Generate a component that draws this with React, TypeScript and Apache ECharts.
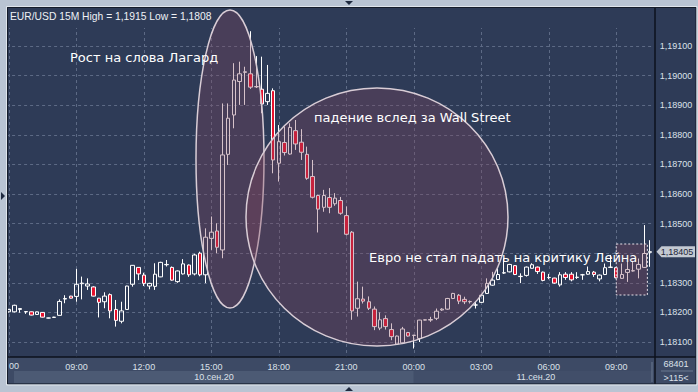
import React, { useEffect, useRef } from "react";
import * as echarts from "echarts";

// ---- data (EUR/USD, 15 minute bars, 10.09.2020 06:00 -> 11.09.2020 10:30) ----
const open = [
  1.18202, 1.18202, 1.1821, 1.18203, 1.18202, 1.18193, 1.182, 1.18181, 1.18183, 1.1819,
  1.18245, 1.18255, 1.18254, 1.18297, 1.18289, 1.18286, 1.18248, 1.18236, 1.1826, 1.1821,
  1.1817, 1.1821, 1.18295, 1.18352, 1.18326, 1.18289, 1.18288, 1.1832, 1.18361, 1.18352,
  1.18304, 1.1833, 1.1836, 1.1833, 1.184, 1.18327, 1.1845, 1.18475, 1.18411, 1.18734,
  1.18867, 1.1898, 1.19011, 1.19006, 1.18963, 1.18954, 1.18912, 1.18949, 1.18704, 1.18774,
  1.18735, 1.18814, 1.18775, 1.18734, 1.18659, 1.18595, 1.18555, 1.18588, 1.18567, 1.18578,
  1.18527, 1.18471, 1.18214, 1.18245, 1.18236, 1.18211, 1.18147, 1.18179, 1.18142, 1.18093,
  1.18097, 1.18132, 1.18122, 1.18112, 1.18174, 1.18174, 1.1818, 1.18208, 1.18211, 1.18247,
  1.18258, 1.18244, 1.18236, 1.18225, 1.18234, 1.18264, 1.18292, 1.18311, 1.18333, 1.18337,
  1.18358, 1.18321, 1.18325, 1.18349, 1.18353, 1.18336, 1.18318, 1.18316, 1.18293, 1.18329,
  1.18329, 1.18318, 1.18327, 1.18329, 1.18336, 1.18313, 1.18328, 1.18352, 1.18351, 1.18315,
  1.18335, 1.1834, 1.18346, 1.18352, 1.18403,
];
const close = [
  1.1821, 1.18224, 1.18213, 1.18202, 1.18191, 1.18202, 1.18184, 1.18181, 1.18184, 1.18237,
  1.18247, 1.18248, 1.18295, 1.18299, 1.18296, 1.18255, 1.18234, 1.18255, 1.18205, 1.18173,
  1.18205, 1.18289, 1.18359, 1.1833, 1.18298, 1.18298, 1.18329, 1.18369, 1.18362, 1.18309,
  1.1834, 1.18364, 1.18327, 1.18394, 1.18327, 1.18454, 1.18471, 1.1842, 1.18732, 1.18856,
  1.18985, 1.19006, 1.19013, 1.18961, 1.18962, 1.18904, 1.1894, 1.18715, 1.18777, 1.1874,
  1.18825, 1.18769, 1.18741, 1.18653, 1.18589, 1.18549, 1.18595, 1.18555, 1.18586, 1.18535,
  1.18464, 1.18205, 1.18246, 1.18238, 1.18214, 1.18152, 1.18175, 1.18152, 1.18118, 1.1812,
  1.18144, 1.1812, 1.18123, 1.18174, 1.18175, 1.18176, 1.18204, 1.18211, 1.18247, 1.18264,
  1.18238, 1.18236, 1.18237, 1.18225, 1.18258, 1.18298, 1.18309, 1.18328, 1.18334, 1.18362,
  1.18328, 1.18322, 1.18353, 1.18361, 1.18338, 1.18308, 1.18318, 1.18299, 1.18327, 1.18318,
  1.1831, 1.18319, 1.18327, 1.18338, 1.18328, 1.18326, 1.18351, 1.18353, 1.18317, 1.18328,
  1.18345, 1.18341, 1.18362, 1.18399, 1.18405,
];
const low = [
  1.182, 1.182, 1.18199, 1.18195, 1.1819, 1.18192, 1.18183, 1.1818, 1.18182, 1.1819,
  1.18231, 1.18247, 1.18236, 1.18244, 1.18276, 1.18254, 1.18183, 1.18214, 1.1818, 1.18152,
  1.18163, 1.18209, 1.18287, 1.18309, 1.18289, 1.18278, 1.18276, 1.18319, 1.18355, 1.18307,
  1.183, 1.18328, 1.1832, 1.18325, 1.18322, 1.18299, 1.18411, 1.184, 1.18383, 1.18698,
  1.18822, 1.18901, 1.18901, 1.18955, 1.18958, 1.18873, 1.18901, 1.1867, 1.18642, 1.1873,
  1.18733, 1.18749, 1.18715, 1.18648, 1.18585, 1.1847, 1.1854, 1.18535, 1.1856, 1.1853,
  1.1846, 1.18175, 1.18186, 1.1823, 1.18208, 1.1814, 1.1814, 1.18142, 1.18106, 1.1809,
  1.18095, 1.18118, 1.18078, 1.181, 1.18173, 1.18168, 1.18174, 1.18205, 1.18209, 1.18245,
  1.18228, 1.18228, 1.1823, 1.18213, 1.18232, 1.18262, 1.1829, 1.18309, 1.1833, 1.18335,
  1.18326, 1.18299, 1.18321, 1.18348, 1.1833, 1.18305, 1.18312, 1.18297, 1.18287, 1.1831,
  1.18305, 1.18313, 1.1831, 1.18327, 1.1832, 1.18305, 1.18326, 1.1835, 1.18315, 1.18313,
  1.18303, 1.18338, 1.18315, 1.1835, 1.18354,
];
const high = [
  1.18212, 1.18226, 1.18214, 1.18204, 1.18203, 1.18203, 1.18201, 1.18182, 1.18185, 1.18244,
  1.18258, 1.18256, 1.18347, 1.18321, 1.18315, 1.18288, 1.18249, 1.18268, 1.18264, 1.18242,
  1.18236, 1.1829, 1.1836, 1.18353, 1.18334, 1.183, 1.18366, 1.18371, 1.18377, 1.18355,
  1.18342, 1.1838, 1.18362, 1.18398, 1.18405, 1.18484, 1.18524, 1.18501, 1.18906, 1.18906,
  1.19042, 1.19047, 1.1903, 1.1915, 1.19066, 1.19064, 1.19036, 1.18957, 1.18833, 1.18828,
  1.18839, 1.1885, 1.18819, 1.1876, 1.18715, 1.18598, 1.18614, 1.1862, 1.18603, 1.1859,
  1.18558, 1.18475, 1.18304, 1.18287, 1.18254, 1.1822, 1.182, 1.1819, 1.18163, 1.18122,
  1.18151, 1.18134, 1.18124, 1.18175, 1.18176, 1.18185, 1.18213, 1.18214, 1.18249, 1.18266,
  1.18262, 1.18253, 1.1824, 1.18236, 1.1826, 1.18315, 1.18337, 1.18349, 1.18383, 1.18364,
  1.1836, 1.18332, 1.18355, 1.18366, 1.18355, 1.18338, 1.1833, 1.18317, 1.18336, 1.18336,
  1.18336, 1.18336, 1.1833, 1.18355, 1.1834, 1.18328, 1.18365, 1.18394, 1.18353, 1.18365,
  1.18371, 1.18374, 1.18382, 1.18495, 1.18444,
];

const pad = (n: number) => (n < 10 ? "0" + n : "" + n);
const categories = open.map((_, i) => {
  const m = 6 * 60 + 15 * i;
  const day = m >= 1440 ? "11" : "10";
  const t = m % 1440;
  return `${day}.09 ${pad(Math.floor(t / 60))}:${pad(t % 60)}`;
});

const titleText = "EUR/USD 15M High = 1,1915 Low = 1,1808";
const dayLabels = ["10.сен.20", "11.сен.20"];
const dayBreakIndex = 72;
const barsTotal = "68401";
const barsVisible = ">115<";
const clippedFirstLabel = "00";
const notes = [
  { text: "Рост на слова Лагард", x: 70, y: 57 },
  { text: "падение вслед за Wall Street", x: 314, y: 117 },
  { text: "Евро не стал падать на критику Лейна", x: 369, y: 257 },
];

const fmt = (v: number) => v.toFixed(5).replace(".", ",");

const C = {
  outer: "#b9c4d3",
  panel: "#2e3b57",
  row: "#3d4a65",
  band1: "#4c5a74",
  band2: "#414e69",
  grid: "#5d6a85",
  overlay: "rgba(130,70,95,0.33)",
  overlayStroke: "#d9cdd6",
  red: "#e8112d",
  label: "#dce1e9",
};

export default function App() {
  const ref = useRef<HTMLDivElement>(null);
  useEffect(() => {
    const el = ref.current!;
    const chart = echarts.init(el, null, { renderer: "svg" });
    const small = "Liberation Sans";
    const gridLine = { color: C.grid, type: [3, 3], width: 1 };
    chart.setOption({
      animation: false,
      backgroundColor: C.panel,
      grid: { left: 6.1, right: 45.2, top: 8, bottom: 35 },
      xAxis: {
        type: "category",
        data: categories,
        boundaryGap: true,
        axisLine: { show: false },
        axisTick: { show: false, interval: 11, alignWithLabel: true },
        splitLine: { show: true, interval: 11, alignWithLabel: true, lineStyle: gridLine },
        axisLabel: {
          interval: 11,
          formatter: (v: string, idx: number) => (idx === 0 ? "" : v.split(" ")[1]),
          color: C.label,
          fontSize: 9,
          fontFamily: small,
          margin: 5,
        },
      },
      yAxis: {
        type: "value",
        position: "right",
        min: 1.180493,
        max: 1.192284,
        splitNumber: 12,
        axisLine: { show: false },
        axisTick: { show: false },
        splitLine: { show: true, lineStyle: gridLine },
        axisLabel: {
          showMinLabel: false,
          showMaxLabel: false,
          formatter: (v: number) => (v > 1.1915 || v < 1.1805 ? "" : fmt(v)),
          color: C.label,
          fontSize: 9,
          fontFamily: small,
          margin: 7,
        },
      },
      series: [
        {
          type: "candlestick",
          z: 5,
          data: open.map((o, i) => [o, close[i], low[i], high[i]]),
          barWidth: 4,
          itemStyle: {
            color: "rgba(0,0,0,0)",
            color0: C.red,
            borderColor: "#ffffff",
            borderColor0: "#ffffff",
            borderWidth: 1,
          },
        },
      ],
    });

    const px = (i: number) => chart.convertToPixel({ xAxisIndex: 0 }, i) as number;
    const py = (v: number) => chart.convertToPixel({ yAxisIndex: 0 }, v) as number;
    const xBreak = px(dayBreakIndex);
    const lastPrice = close[close.length - 1];
    const yLast = py(lastPrice);
    const bandL = 14;
    const bandR = 652;

    const txt = (text: string, x: number, y: number, extra: any = {}) => ({
      type: "text",
      z: 70,
      style: {
        text,
        x,
        y,
        fill: "#ffffff",
        fontSize: 9,
        fontFamily: small,
        verticalAlign: "middle",
        align: "left",
        ...extra,
      },
    });

    chart.setOption({
      graphic: {
        elements: [
          // bottom axis row
          { type: "rect", z: 0, shape: { x: 8, y: 357, width: 688, height: 27 }, style: { fill: C.row } },
          { type: "rect", z: 0, shape: { x: bandL, y: 371, width: xBreak - bandL, height: 12 }, style: { fill: C.band1 } },
          { type: "rect", z: 0, shape: { x: xBreak, y: 371, width: bandR - xBreak, height: 12 }, style: { fill: C.band2 } },
          // cover the grid line above the top price label (row with the title)
          { type: "rect", z: 1, shape: { x: 8, y: 8, width: 647, height: 20 }, style: { fill: C.panel } },
          // annotations
          { type: "ellipse", z: 50, shape: { cx: 230, cy: 159, rx: 34, ry: 149 }, style: { fill: C.overlay, stroke: C.overlayStroke, lineWidth: 1.5 } },
          { type: "ellipse", z: 50, shape: { cx: 377, cy: 217, rx: 131, ry: 129 }, style: { fill: C.overlay, stroke: C.overlayStroke, lineWidth: 1.5 } },
          { type: "rect", z: 50, shape: { x: px(108), y: 244, width: px(113) + 3 - px(108), height: 51 }, style: { fill: C.overlay, stroke: "#e8e2ea", lineWidth: 1, lineDash: [2, 2] } },
          ...notes.map((n) => txt(n.text, n.x, n.y, { fontSize: 13, fontFamily: "DejaVu Sans" })),
          // axes lines
          { type: "line", z: 60, shape: { x1: 7, y1: 357, x2: 696, y2: 357 }, style: { stroke: "#0d121d", lineWidth: 1.5 } },
          { type: "line", z: 60, shape: { x1: 655, y1: 7, x2: 655, y2: 384 }, style: { stroke: "#0d121d", lineWidth: 1.5 } },
          { type: "line", z: 60, shape: { x1: 652, y1: 362, x2: 652, y2: 382 }, style: { stroke: "#6a7890", lineWidth: 1 } },
          // clipped first time label
          txt(clippedFirstLabel, 9, 366, { fill: C.label }),
          // date labels
          txt(dayLabels[0], (bandL + xBreak) / 2, 377, { align: "center", fill: C.label }),
          txt(dayLabels[1], (xBreak + bandR) / 2 + 3, 377, { align: "center", fill: C.label }),
          // right bottom box
          txt(barsTotal, 676, 364, { align: "center", fill: C.label }),
          { type: "line", z: 60, shape: { x1: 661, y1: 371, x2: 693, y2: 371 }, style: { stroke: "#6a7890", lineWidth: 1 } },
          txt(barsVisible, 676, 378, { align: "center", fill: C.label }),
          // price tag
          {
            type: "polygon",
            z: 70,
            shape: { points: [[656.5, yLast], [661.5, yLast - 5.5], [695, yLast - 5.5], [695, yLast + 5.5], [661.5, yLast + 5.5]] },
            style: { fill: "#c3c9d2" },
          },
          txt(fmt(lastPrice), 677, yLast, { align: "center", fill: "#1b2335" }),
          // title
          txt(titleText, 10, 16, { fill: "#eef1f5", fontSize: 10.3 }),
          // outer frame
          { type: "rect", z: 80, shape: { x: 0, y: 0, width: 7, height: 392 }, style: { fill: C.outer } },
          { type: "rect", z: 80, shape: { x: 0, y: 0, width: 698, height: 7 }, style: { fill: C.outer } },
          { type: "rect", z: 80, shape: { x: 696, y: 0, width: 2, height: 392 }, style: { fill: C.outer } },
          { type: "rect", z: 80, shape: { x: 0, y: 384, width: 698, height: 8 }, style: { fill: C.outer } },
          { type: "rect", z: 81, shape: { x: 7.5, y: 7.5, width: 688.5, height: 376.5 }, style: { fill: "none", stroke: "#151c2a", lineWidth: 1 } },
          { type: "rect", z: 81, shape: { x: 6.5, y: 6.5, width: 690.5, height: 378.5 }, style: { fill: "none", stroke: "#dfe5ec", lineWidth: 1 } },
          // small markers
          { type: "polygon", z: 82, shape: { points: [[345, 1], [353, 1], [349, 5]] }, style: { fill: "#1f2a40" } },
          { type: "polygon", z: 82, shape: { points: [[345, 391], [353, 391], [349, 387]] }, style: { fill: "#1f2a40" } },
          { type: "polygon", z: 82, shape: { points: [[1, 192], [1, 200], [5, 196]] }, style: { fill: "#1f2a40" } },
        ],
      },
    });
    return () => chart.dispose();
  }, []);
  return (
    <div
      ref={ref}
      style={{ position: "fixed", left: 0, top: 0, width: 698, height: 392 }}
    />
  );
}
